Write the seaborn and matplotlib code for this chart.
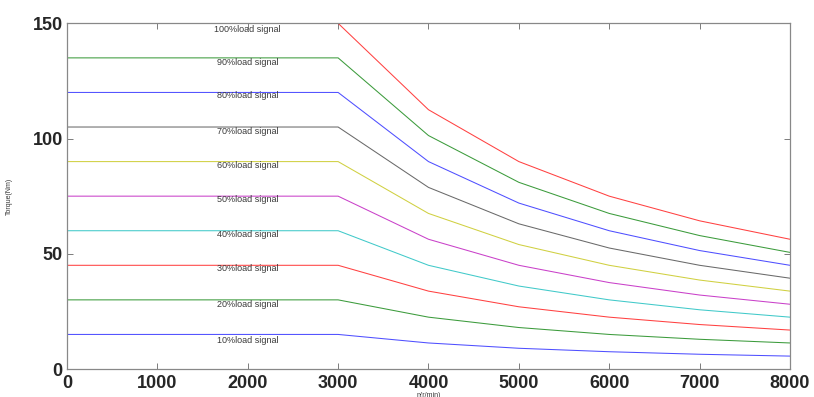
import numpy as np
import pandas as pd
import matplotlib
matplotlib.use("Agg")
import matplotlib.pyplot as plt
import seaborn as sns

speed = [0, 3000, 4000, 5000, 6000, 7000, 8000]
load_names = ["10%load signal", "20%load signal", "30%load signal", "40%load signal",
              "50%load signal", "60%load signal", "70%load signal", "80%load signal",
              "90%load signal", "100%load signal"]
torque_10 = [15, 15, 11.3, 9.0, 7.5, 6.4, 5.6]
torque_20 = [30, 30, 22.5, 18.0, 15.0, 12.9, 11.3]
torque_30 = [45, 45, 33.8, 27.0, 22.5, 19.3, 16.9]
torque_40 = [60, 60, 45.0, 36.0, 30.0, 25.7, 22.5]
torque_50 = [75, 75, 56.3, 45.0, 37.5, 32.1, 28.1]
torque_60 = [90, 90, 67.5, 54.0, 45.0, 38.6, 33.8]
torque_70 = [105, 105, 78.8, 63.0, 52.5, 45.0, 39.4]
torque_80 = [120, 120, 90.0, 72.0, 60.0, 51.4, 45.0]
torque_90 = [135, 135, 101.3, 81.0, 67.5, 57.9, 50.6]
torque_100 = [150, 150, 112.5, 90.0, 75.0, 64.3, 56.3]
label_x = [2000] * 10
label_y = [12.3, 28.0, 43.7, 58.4, 73.5, 88.2, 103.2, 118.5, 132.9, 147.3]

series = [torque_10, torque_20, torque_30, torque_40, torque_50,
          torque_60, torque_70, torque_80, torque_90, torque_100]
colors = ["#3030ff", "#1a8a1a", "#ff2020", "#20c0c0", "#c020c0",
          "#c8c820", "#505050", "#3030ff", "#1a8a1a", "#ff2020"]

rows = []
for name, vals in zip(load_names, series):
    for s, t in zip(speed, vals):
        rows.append({"speed": s, "torque": t, "load": name})
df = pd.DataFrame(rows)

sns.set_theme(style="white")
plt.rcParams['font.family'] = ['Liberation Sans', 'DejaVu Sans']

fig = plt.figure(figsize=(8.14, 3.97), dpi=100)
ax = fig.add_axes([0.0823, 0.0705, 0.8882, 0.8708])

sns.lineplot(data=df, x="speed", y="torque", hue="load", hue_order=load_names,
             palette=dict(zip(load_names, colors)), linewidth=0.75, alpha=0.85,
             ax=ax, legend=False, sort=False)

for name, xx, yy in zip(load_names, label_x, label_y):
    ax.text(xx, yy, name, fontsize=6.5, color="#3a3a3a", ha="center", va="center")

ax.set_xlim(0, 8000)
ax.set_ylim(0, 150)
ax.set_xticks([0, 1000, 2000, 3000, 4000, 5000, 6000, 7000, 8000])
ax.set_yticks([0, 50, 100, 150])
ax.tick_params(axis="both", which="both", direction="in", length=4, width=0.6,
               color="#666666", top=True, right=True, bottom=True, left=True,
               labelsize=13)
ax.tick_params(axis="x", pad=4)
ax.tick_params(axis="y", pad=3)
for lbl in ax.get_xticklabels() + ax.get_yticklabels():
    lbl.set_fontweight("bold")
for sp in ax.spines.values():
    sp.set_color("#888888")
    sp.set_linewidth(0.9)
    sp.set_zorder(5)

ax.set_xlabel("n(r/min)", fontsize=5, labelpad=0, color="#333333")
ax.set_ylabel("Torque(Nm)", fontsize=5, labelpad=14, color="#333333")

fig.savefig("out.png", dpi=100, facecolor="white")
